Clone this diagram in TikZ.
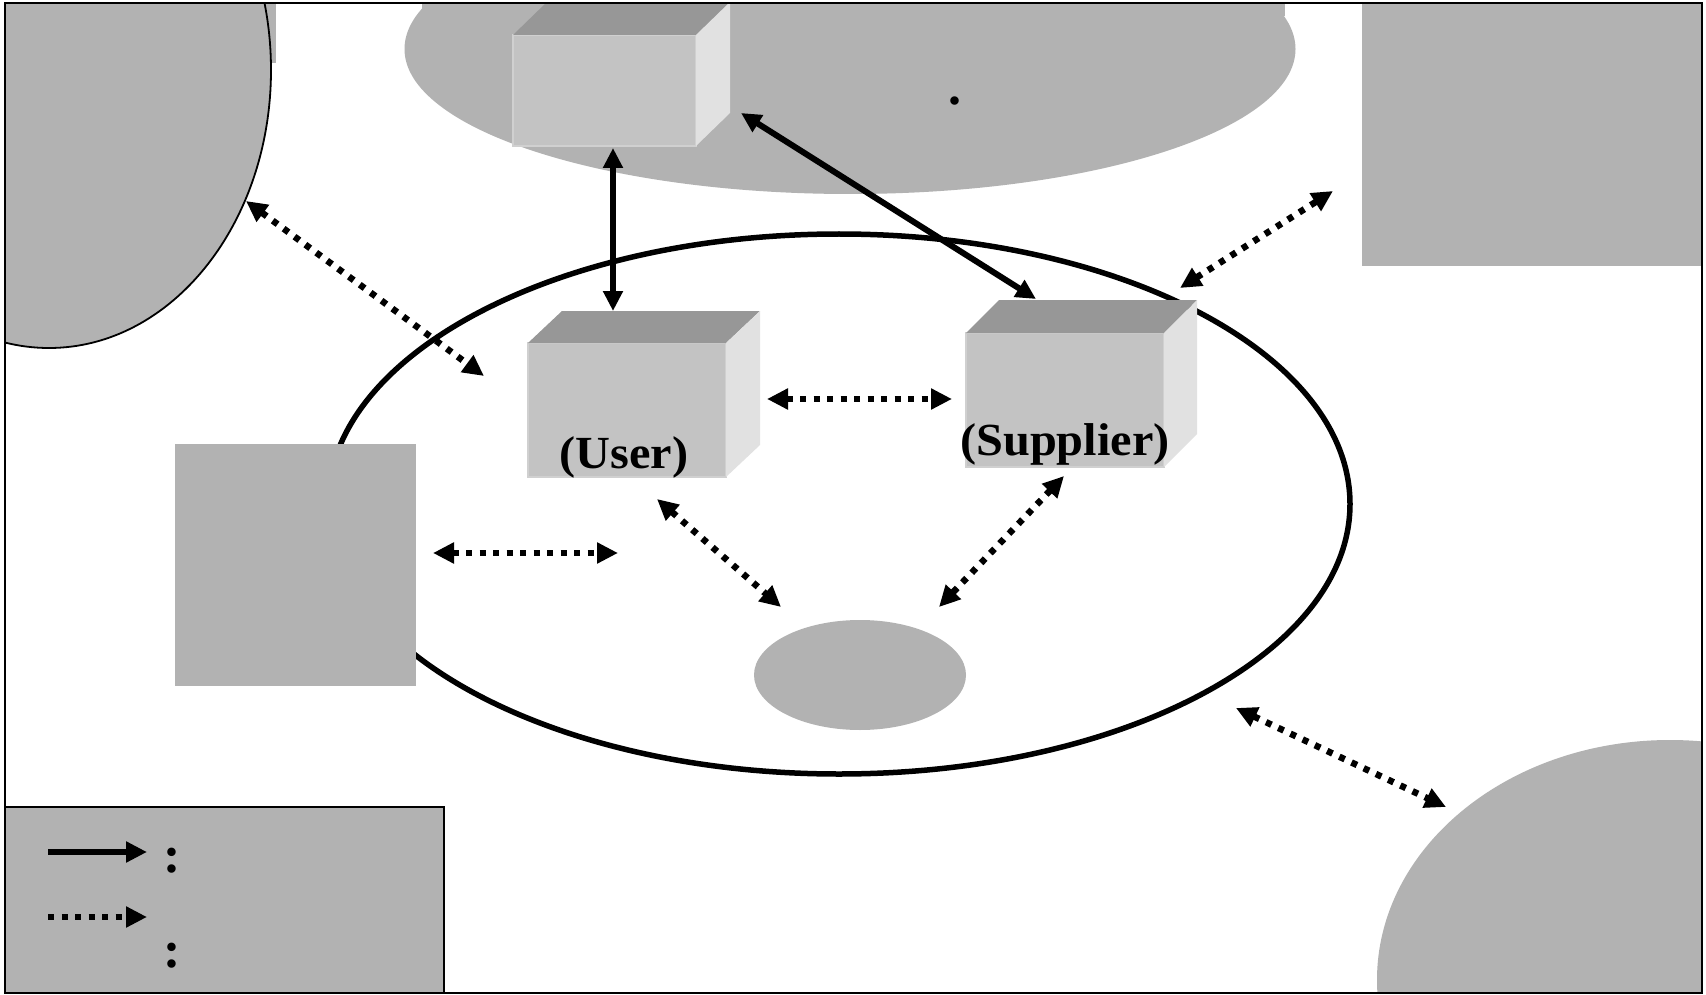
\documentclass[tikz,border=0pt]{standalone}
\usepackage{fontspec}
\setmainfont{Liberation Serif}
\usetikzlibrary{arrows.meta,shapes.geometric}

\definecolor{shade}{RGB}{178,178,178}
\definecolor{boxfront}{RGB}{195,195,195}
\definecolor{boxtop}{RGB}{151,151,151}
\definecolor{boxside}{RGB}{225,225,225}
\definecolor{boxedge}{RGB}{208,208,208}

\tikzset{
  blob/.style={fill=shade, draw=none},
  frontface/.style={rectangle, fill=boxfront, draw=boxedge, line width=1.5pt, inner sep=0pt, outer sep=0pt},
  link/.style={line width=6pt, {Triangle[length=20pt,width=19pt]}-{Triangle[length=20pt,width=19pt]}},
  flow/.style={line width=6.5pt, dash pattern=on 6pt off 7.5pt, {Triangle[length=21pt,width=20pt]}-{Triangle[length=21pt,width=20pt]}},
  keylink/.style={line width=6pt, -{Triangle[length=21pt,width=20pt]}},
  keyflow/.style={line width=6.5pt, dash pattern=on 6pt off 7.5pt, -{Triangle[length=21pt,width=20pt]}},
  boxcaption/.style={font=\bfseries\fontsize{46}{50}\selectfont, inner sep=0pt, anchor=base},
  bigmark/.style={font=\bfseries\fontsize{52}{56}\selectfont, inner sep=0pt, anchor=center},
}

% a shaded box: name, centre x, centre y, width, height, depth x, depth y
\newcommand\cubebox[7]{%
  \node[frontface, minimum width=#4pt, minimum height=#5pt] (#1) at (#2,#3) {};
  \fill[boxtop] (#1.north west) -- ++(#6,-#7) -- ([shift={(#6pt,#7pt)}]#1.north east) -- (#1.north east) -- cycle;
  \fill[boxside] (#1.north east) -- ++(#6,-#7) -- ([shift={(#6pt,#7pt)}]#1.south east) -- (#1.south east) -- cycle;
}

\begin{document}
\begin{tikzpicture}[x=1pt, y=-1pt]
\useasboundingbox (0,0) rectangle (1706,995);
\fill[white] (0,0) rectangle (1706,995);

\begin{scope}
  \clip (5,3) rectangle (1702,993);
  % corner and top regions
  \fill[blob] (5,3) rectangle (276,63);
  \filldraw[fill=shade, draw=black, line width=1.8pt] (49,70) ellipse [x radius=222, y radius=278];
  \fill[blob] (422,3) rectangle (1285,16);
  \fill[blob] (850,49) ellipse [x radius=445.5, y radius=145];
  \fill[blob] (1362,3) rectangle (1702,266);
  \fill[blob] (1670,980) ellipse [x radius=293, y radius=240];

  % central boundary
  \draw[line width=5.5pt] (839,504) ellipse [x radius=511, y radius=270];

  % inner shapes
  \node[blob, rectangle, minimum width=241pt, minimum height=242pt, inner sep=0pt] (side) at (295.5,565) {};
  \node[blob, ellipse, minimum width=212pt, minimum height=110pt, inner sep=0pt] (pool) at (860,675) {};
  \node[bigmark] (dot) at (955,101) {.};

  % boxes
  \cubebox{topbox}{604.5}{90.5}{183}{111}{34}{33}
  \cubebox{user}{627}{410}{198}{134}{34}{32}
  \cubebox{supplier}{1065}{400}{198}{134}{33}{33}
  \node[boxcaption] (usertext) at (624,468) {\scalebox{1.05}[1]{(User)}};
  \node[boxcaption] (suppliertext) at (1065,455) {\scalebox{1.05}[1]{(Supplier)}};

  % solid links
  \draw[link] ([xshift=8.5pt,yshift=-2pt]topbox.south) -- ([xshift=-14pt,yshift=32pt]user.north);
  \draw[link] ([xshift=45pt,yshift=33pt]topbox.south east) -- ([xshift=-29pt,yshift=34pt]supplier.north);

  % dotted exchanges
  \coordinate (c1) at (246,201);  \coordinate (c2) at (484,376);
  \coordinate (d1) at (767,399);  \coordinate (d2) at (952,399);
  \coordinate (e1) at (1180,288); \coordinate (e2) at (1333,191);
  \coordinate (f1) at (433,553);  \coordinate (f2) at (618,553);
  \coordinate (g1) at (657,499);  \coordinate (g2) at (781,607);
  \coordinate (h1) at (1064,476); \coordinate (h2) at (939,607);
  \coordinate (i1) at (1236,708); \coordinate (i2) at (1446,807);
  \draw[flow] (c1) -- (c2);
  \draw[flow] (d1) -- (d2);
  \draw[flow] (e1) -- (e2);
  \draw[flow] (f1) -- (f2);
  \draw[flow] (g1) -- (g2);
  \draw[flow] (h1) -- (h2);
  \draw[flow] (i1) -- (i2);

  % key
  \node[rectangle, fill=shade, draw=black, line width=1.5pt, inner sep=0pt, minimum width=439pt, minimum height=186pt] (key) at (224.5,900) {};
  \coordinate (k1) at (48,852);  \coordinate (k2) at (147,852);
  \coordinate (m1) at (48,917);  \coordinate (m2) at (147,917);
  \draw[keylink] (k1) -- (k2);
  \draw[keyflow] (m1) -- (m2);
  \node[bigmark] (colonA) at (172,860.5) {:};
  \node[bigmark] (colonB) at (172,956) {:};
\end{scope}

\draw[line width=2.5pt] (5,3) rectangle (1702,993);
\end{tikzpicture}
\end{document}
